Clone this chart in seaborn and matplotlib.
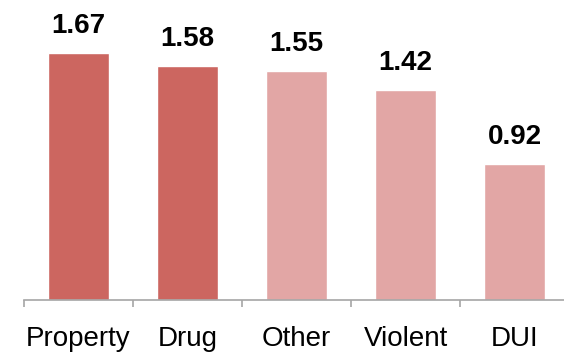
"""Bar chart of values by offense type."""
import matplotlib
matplotlib.use('Agg')
import matplotlib.pyplot as plt
import numpy as np
import seaborn as sns

categories = ['Property', 'Drug', 'Other', 'Violent', 'DUI']
values = [1.67, 1.58, 1.55, 1.42, 0.92]
bar_colors = ['#CC6660', '#CC6660', '#E2A6A5', '#E2A6A5', '#E2A6A5']

sns.set_style('white')
plt.rcParams['font.family'] = ['Liberation Sans', 'DejaVu Sans']

fig = plt.figure(figsize=(5.64, 3.54), dpi=100)
ax = fig.add_axes([24 / 564, 54 / 354, 545 / 564, 281 / 354])

sns.barplot(x=categories, y=values, hue=categories, palette=bar_colors,
            legend=False, width=0.56, saturation=1, ax=ax)

# value labels above the bars
for i, v in enumerate(values):
    ax.annotate(f'{v:.2f}', (i, v), xytext=(0, 14.4), textcoords='offset points',
                ha='center', va='baseline', fontsize=20, fontweight='bold',
                color='black')

ax.set_ylim(0, 1.9)
ax.set_xlim(-0.5, len(categories) - 0.5)
ax.set_yticks([])
ax.set_xlabel('')
ax.set_ylabel('')

for side in ['left', 'right', 'top']:
    ax.spines[side].set_visible(False)
ax.spines['bottom'].set_color('#A6A6A6')
ax.spines['bottom'].set_linewidth(1.2)

# labels at the bar centres
ax.tick_params(axis='x', which='major', length=0, pad=19, labelsize=20)
for lbl in ax.get_xticklabels():
    lbl.set_color('black')

# small tick marks between categories, hanging below the axis line
edges = np.arange(-0.5, len(categories))
ax.vlines(edges, -0.045, 0, colors='#A6A6A6', linewidth=1.2, clip_on=False)

fig.savefig('out.png', dpi=100)
